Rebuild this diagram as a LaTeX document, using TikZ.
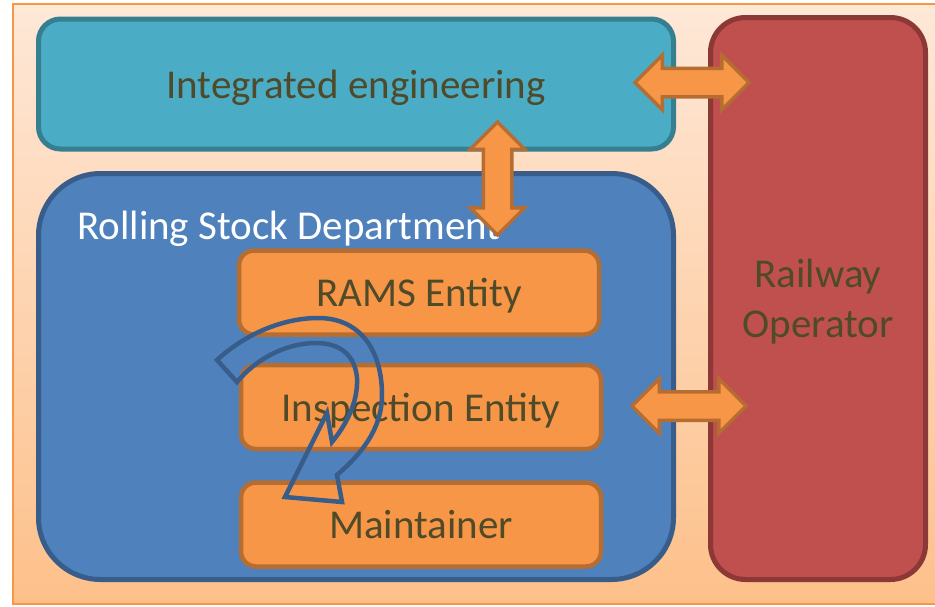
\documentclass[tikz,border=0pt]{standalone}
\usepackage{fontspec}
\setmainfont{Carlito}
\usetikzlibrary{positioning,shapes.arrows}
\definecolor{ieFill}{HTML}{4BACC6}
\definecolor{ieEdge}{HTML}{367F91}
\definecolor{roFill}{HTML}{C0504D}
\definecolor{roEdge}{HTML}{8C3836}
\definecolor{rsdFill}{HTML}{4F81BD}
\definecolor{rsdEdge}{HTML}{385D8A}
\definecolor{orFill}{HTML}{F79646}
\definecolor{orEdge}{HTML}{B66D31}
\definecolor{txt}{HTML}{4F4A2A}
\definecolor{bgTop}{HTML}{FEE8D7}
\definecolor{bgBot}{HTML}{FDC08A}
\begin{document}
\begin{tikzpicture}[x=1pt, y=-1pt,
    every node/.style={font=\fontsize{41}{50}\selectfont, text=txt},
    oneline/.style={text height=34pt, text depth=6pt},
    bigbox/.style={draw, rounded corners=#1, line width=5pt, inner sep=0pt},
    entity/.style={oneline, draw=orEdge, fill=orFill, rounded corners=15pt, line width=4.5pt,
      minimum width=360pt, minimum height=84pt, inner sep=0pt},
    dblarr/.style={double arrow, draw=orEdge, fill=orFill, line width=3.5pt,
      inner xsep=0pt, inner ysep=12.5pt, minimum width=51pt, minimum height=114pt,
      double arrow head extend=13pt}]
  \useasboundingbox (0,0) rectangle (935,606);
  \shade[top color=bgTop, bottom color=bgBot] (13,4) rectangle (950,604);
  \draw[orFill, line width=1.5pt] (13,4) rectangle (950,604);
  \node[bigbox=22pt, oneline, draw=ieEdge, fill=ieFill, minimum width=635pt, minimum height=130pt]
    (IE) at (356,84) {Integrated engineering};
  \node[bigbox=35pt, draw=roEdge, fill=roFill, minimum width=215pt, minimum height=562pt,
    align=center, text depth=0pt] (RO) at (818,298.5) {Railway\\Operator};
  \node[bigbox=62pt, draw=rsdEdge, fill=rsdFill, minimum width=635pt, minimum height=406pt]
    (RSD) at (356,376.5) {};
  \node[anchor=west, inner sep=0pt, text=white] (RSDT) at (77,229) {Rolling Stock Department};
  \node[entity] (RAMS) at (419,292.5) {RAMS Entity};
  \node[entity, below=26pt of RAMS, xshift=2pt] (INSP) {Inspection Entity};
  \node[entity, below=29pt of INSP] (MAIN) {Maintainer};
  \node[dblarr] (A1) at (692,82.5) {};
  \node[dblarr, rotate=90, minimum height=113pt] (A2) at (497.5,178.5) {};
  \node[dblarr] (A3) at (689,406) {};
  \draw[rsdEdge, line width=4.5pt, line join=miter]
    (217,360) .. controls (250,330) and (288,318) .. (318,318)
    .. controls (360,318) and (382,350) .. (382,395)
    .. controls (382,430) and (360,455) .. (337,475)
    -- (342,502) -- (285,497) -- (327,413) -- (332,442)
    .. controls (350,420) and (358,398) .. (357,378)
    .. controls (355,355) and (340,343) .. (316,343)
    .. controls (285,343) and (255,360) .. (237,382) -- cycle;
\end{tikzpicture}
\end{document}
